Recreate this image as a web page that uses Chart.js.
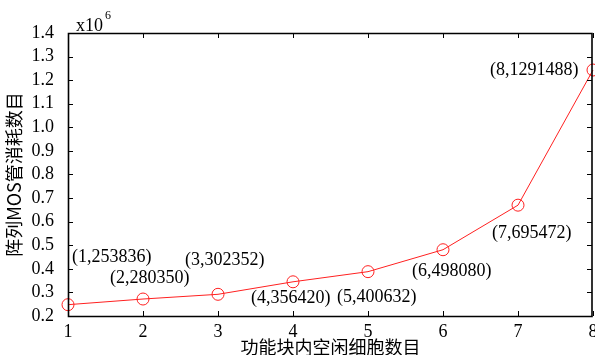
<!DOCTYPE html>
<html>
<head>
<meta charset="utf-8">
<script src="https://cdn.jsdelivr.net/npm/chart.js@4/dist/chart.umd.min.js"></script>
<style>
  html, body { margin: 0; padding: 0; background: #fff; overflow: hidden; }
  #wrap { width: 595px; height: 355px; position: relative; }
</style>
</head>
<body>
<div id="wrap"><canvas id="chart"></canvas></div>
<script>
// free cells in block (x) vs MOS count in array (y, x10^6)
const freeCells = [1, 2, 3, 4, 5, 6, 7, 8];
const mosCount = [0.248, 0.272, 0.292, 0.345, 0.388, 0.481, 0.670, 1.243];
const pointLabels = ['(1,253836)', '(2,280350)', '(3,302352)', '(4,356420)',
  '(5,400632)', '(6,498080)', '(7,695472)', '(8,1291488)'];
const xTicks = [1, 2, 3, 4, 5, 6, 7, 8];
const yTicks = [0.2, 0.3, 0.4, 0.5, 0.6, 0.7, 0.8, 0.9, 1.0, 1.1, 1.2, 1.3, 1.4];

// where each label sits relative to its point (pixels)
const labelOffsets = [[4, -47], [-33, -21], [-33, -34], [-42, 16],
  [-31, 26], [-31, 22], [-26, 28], [-103, 0]];

const serif = '"Liberation Serif", "Times New Roman", serif';
const cjk = '"Noto Sans CJK SC", "Liberation Serif", serif';

const framePlugin = {
  id: 'frame',
  afterDraw(chart) {
    const { ctx, chartArea: a, scales } = chart;
    const L = Math.round(a.left), R = Math.round(a.right);
    const T = Math.round(a.top), B = Math.round(a.bottom);
    ctx.save();
    ctx.strokeStyle = '#000';
    ctx.lineWidth = 1.6;
    ctx.beginPath();
    ctx.moveTo(L + 0.5, T + 0.5); ctx.lineTo(R - 1, T + 0.5);
    ctx.lineTo(R - 1, B + 0.5); ctx.lineTo(L + 0.5, B + 0.5);
    ctx.closePath();
    ctx.stroke();
    // inward ticks
    const tl = 5;
    ctx.lineWidth = 1;
    ctx.beginPath();
    xTicks.forEach(v => {
      const x = Math.round(scales.x.getPixelForValue(v)) + 0.5;
      ctx.moveTo(x, B); ctx.lineTo(x, B - tl);
      ctx.moveTo(x, T); ctx.lineTo(x, T + tl);
    });
    yTicks.forEach(v => {
      const y = Math.round(scales.y.getPixelForValue(v)) + 0.5;
      ctx.moveTo(L, y); ctx.lineTo(L + tl, y);
      ctx.moveTo(R - 1, y); ctx.lineTo(R - 1 - tl, y);
    });
    ctx.stroke();

    // point labels
    ctx.fillStyle = '#000';
    ctx.font = '18px ' + serif;
    ctx.textAlign = 'left';
    ctx.textBaseline = 'middle';
    pointLabels.forEach((t, i) => {
      const px = scales.x.getPixelForValue(freeCells[i]);
      const py = scales.y.getPixelForValue(mosCount[i]);
      ctx.fillText(t, px + labelOffsets[i][0], py + labelOffsets[i][1]);
    });

    // exponent
    ctx.textBaseline = 'alphabetic';
    ctx.fillText('x10', L + 8, T - 2);
    ctx.font = '12px ' + serif;
    ctx.fillText('6', L + 37, T - 14);

    // axis titles
    ctx.font = '18px ' + cjk;
    ctx.textAlign = 'center';
    ctx.textBaseline = 'middle';
    ctx.fillText('功能块内空闲细胞数目', (L + R) / 2, 347);
    ctx.save();
    ctx.translate(14, (T + B) / 2);
    ctx.rotate(-Math.PI / 2);
    ctx.fillText('阵列MOS管消耗数目', 0, 0);
    ctx.restore();
    ctx.restore();
  }
};

new Chart(document.getElementById('chart'), {
  type: 'line',
  data: {
    datasets: [{
      data: freeCells.map((x, i) => ({ x: x, y: mosCount[i] })),
      borderColor: '#ff2020',
      borderWidth: 1,
      backgroundColor: 'rgba(0,0,0,0)',
      pointStyle: 'circle',
      pointRadius: 6,
      pointBorderWidth: 1,
      pointBorderColor: '#ff2020',
      pointBackgroundColor: 'rgba(0,0,0,0)',
      tension: 0,
      clip: false
    }]
  },
  options: {
    responsive: true,
    maintainAspectRatio: false,
    animation: false,
    events: [],
    layout: { autoPadding: false, padding: { top: 33, right: 2, left: 0, bottom: 0 } },
    plugins: { legend: { display: false }, tooltip: { enabled: false } },
    scales: {
      x: {
        type: 'linear', min: 1, max: 8,
        grid: { display: false }, border: { display: false },
        afterBuildTicks: s => { s.ticks = xTicks.map(v => ({ value: v })); },
        ticks: { color: '#000', padding: -3, autoSkip: false, font: { family: serif, size: 18 }, maxRotation: 0 },
        afterFit: s => { s.height = 39; s.paddingLeft = 0; s.paddingRight = 0; }
      },
      y: {
        type: 'linear', min: 0.2, max: 1.4,
        grid: { display: false }, border: { display: false },
        afterBuildTicks: s => { s.ticks = yTicks.map(v => ({ value: v })); },
        ticks: { color: '#000', padding: 6, autoSkip: false, font: { family: serif, size: 18 },
          callback: v => v.toFixed(1) },
        afterFit: s => { s.width = 68; s.paddingTop = 0; s.paddingBottom = 0; }
      }
    }
  },
  plugins: [framePlugin]
});
</script>
</body>
</html>
